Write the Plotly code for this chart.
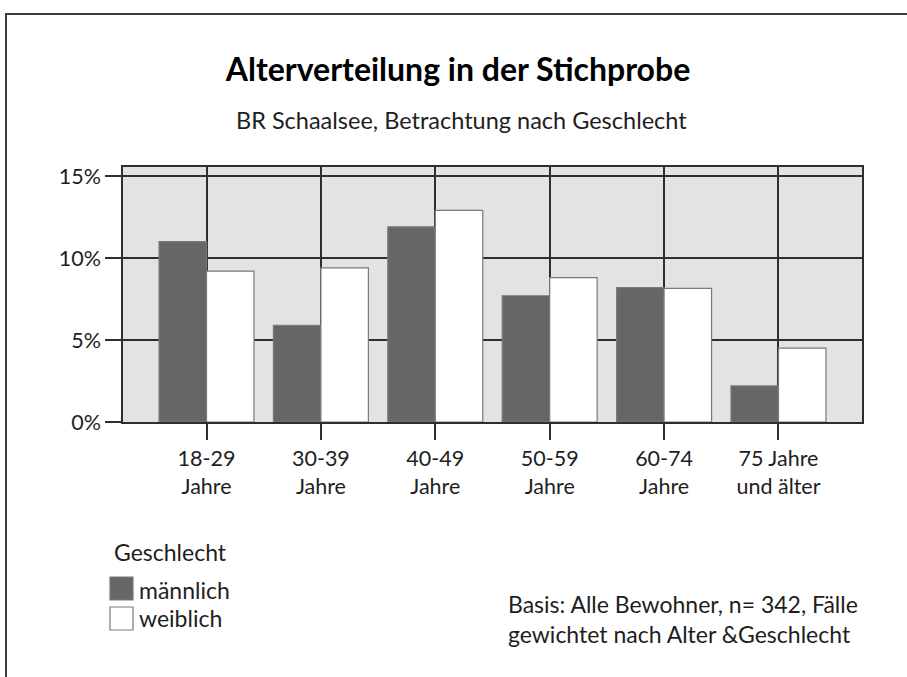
import plotly.graph_objects as go

categories = ["18-29<br>Jahre", "30-39<br>Jahre", "40-49<br>Jahre", "50-59<br>Jahre", "60-74<br>Jahre", "75 Jahre<br>und älter"]
series_names = ["männlich", "weiblich"]
maennlich = [11.0, 5.9, 11.9, 7.7, 8.2, 2.2]
weiblich = [9.2, 9.4, 12.9, 8.8, 8.15, 4.5]
y_ticks = [0, 5, 10, 15]
y_tick_labels = ["0%", "5%", "10%", "15%"]

title_text = "<b>Alterverteilung in der Stichprobe</b>"
subtitle_text = "BR Schaalsee, Betrachtung nach Geschlecht"
legend_title = "Geschlecht"
footnote_lines = ["Basis: Alle Bewohner, n= 342, Fälle", "gewichtet nach Alter &Geschlecht"]

W, H = 907, 677
ML, MR, MT, MB = 123, 45, 167, 255
PW, PH = W - ML - MR, H - MT - MB
FONT = "Lato"
TXT = "#1e1e1e"
GRID = "#2e2e2e"


def px(x):
    return (x - ML) / PW


def py(y):
    return 1 - (y - MT) / PH


fig = go.Figure()
fig.add_trace(go.Bar(x=categories, y=maennlich, name=series_names[0],
                     marker=dict(color="#666666", line=dict(color="#7a7a7a", width=1.2))))
fig.add_trace(go.Bar(x=categories, y=weiblich, name=series_names[1],
                     marker=dict(color="#ffffff", line=dict(color="#7a7a7a", width=1.2))))

shapes = [
    # outer frame
    dict(type="rect", xref="paper", yref="paper", x0=px(6), x1=px(W + 20), y0=py(H + 20), y1=py(14),
         line=dict(color="#3c3c3c", width=2), fillcolor="rgba(0,0,0,0)", layer="below"),
    # legend swatches
    dict(type="rect", xref="paper", yref="paper", x0=px(110), x1=px(133), y0=py(600), y1=py(577),
         line=dict(color="#7a7a7a", width=1.2), fillcolor="#666666"),
    dict(type="rect", xref="paper", yref="paper", x0=px(110), x1=px(133), y0=py(630), y1=py(607),
         line=dict(color="#7a7a7a", width=1.2), fillcolor="#ffffff"),
]

annotations = [
    dict(text=subtitle_text, xref="paper", yref="paper", x=px(461), y=py(120), xanchor="center",
         yanchor="middle", showarrow=False, font=dict(family=FONT, size=23.5, color=TXT)),
    dict(text=legend_title, xref="paper", yref="paper", x=px(112), y=py(552), xanchor="left",
         yanchor="middle", showarrow=False, font=dict(family=FONT, size=23, color=TXT)),
    dict(text=series_names[0], xref="paper", yref="paper", x=px(137), y=py(590), xanchor="left",
         yanchor="middle", showarrow=False, font=dict(family=FONT, size=23, color=TXT)),
    dict(text=series_names[1], xref="paper", yref="paper", x=px(137), y=py(618), xanchor="left",
         yanchor="middle", showarrow=False, font=dict(family=FONT, size=23, color=TXT)),
    dict(text="<br>".join(footnote_lines), xref="paper", yref="paper", x=px(506), y=py(619),
         xanchor="left", yanchor="middle", align="left", showarrow=False,
         font=dict(family=FONT, size=23, color=TXT)),
]

fig.update_layout(
    width=W, height=H,
    margin=dict(l=ML, r=MR, t=MT, b=MB, pad=0),
    paper_bgcolor="white",
    plot_bgcolor="#e3e3e3",
    barmode="group",
    bargap=0.17,
    bargroupgap=0,
    showlegend=False,
    font=dict(family=FONT, size=22, color=TXT),
    title=dict(text=title_text, x=(458) / W, xanchor="center", xref="container",
               y=1 - 70 / H, yanchor="middle", yref="container",
               font=dict(family=FONT, size=32, color="#000000")),
    shapes=shapes,
    annotations=annotations,
)

fig.update_xaxes(
    range=[-0.73, 5.73],
    showgrid=True, gridcolor=GRID, gridwidth=1.5,
    showline=True, linecolor=GRID, linewidth=1.5, mirror=True,
    ticks="outside", ticklen=16, tickwidth=1.5, tickcolor=GRID,
    tickfont=dict(family=FONT, size=21.5, color=TXT),
    zeroline=False,
)
fig.update_yaxes(
    range=[0, 15.55],
    tickvals=y_ticks, ticktext=y_tick_labels,
    showgrid=True, gridcolor=GRID, gridwidth=1.5,
    showline=True, linecolor=GRID, linewidth=1.5, mirror=True,
    ticks="outside", ticklen=16, tickwidth=1.5, tickcolor=GRID,
    tickfont=dict(family=FONT, size=21.5, color=TXT),
    zeroline=False,
)

fig.write_html("out.html", config={"displayModeBar": False},
               post_script="document.body.style.margin='0';")
